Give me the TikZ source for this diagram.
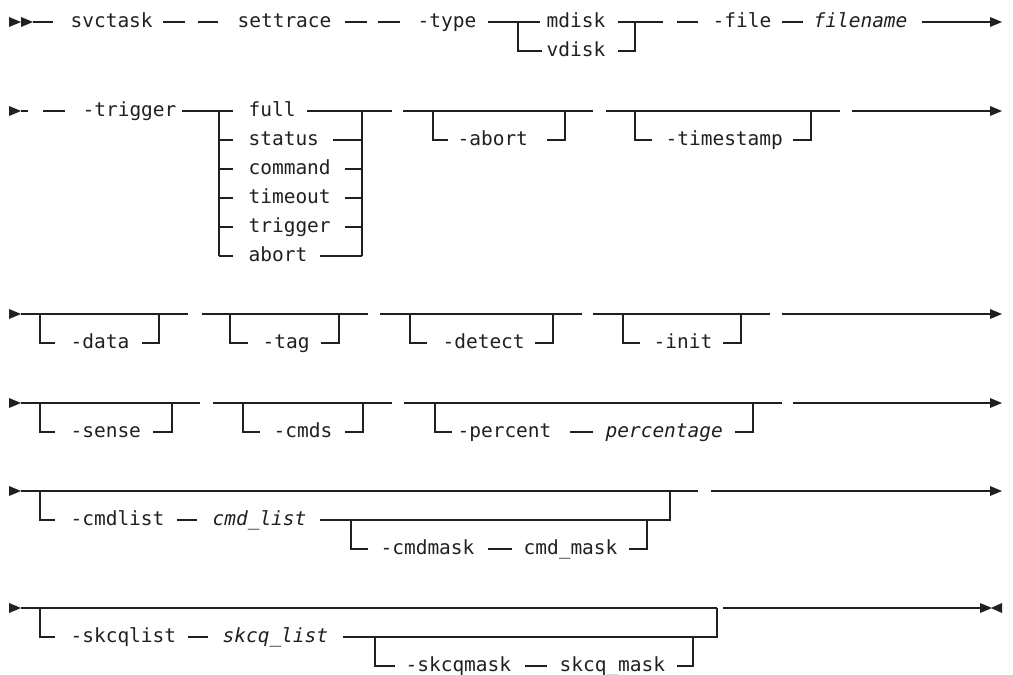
\documentclass[tikz,border=0pt]{standalone}
\usepackage{fontspec}
\setmonofont{DejaVu Sans Mono}
\definecolor{ink}{RGB}{35,31,32}
\newcommand\rtri[2]{\fill[ink] (#1,#2) ++(0,-5) -- ++(12,5) -- ++(-12,5) -- cycle;}
\newcommand\ltri[2]{\fill[ink] (#1,#2) ++(0,-5) -- ++(-11,5) -- ++(11,5) -- cycle;}
\begin{document}
\begin{tikzpicture}[x=1pt,y=-1pt,line width=1.1pt,draw=ink,
  kw/.style={anchor=base west,yshift=-5.8pt,inner sep=0pt,text=ink,font=\fontsize{19.5}{20}\selectfont\ttfamily},
  var/.style={kw,font=\fontsize{19.5}{20}\selectfont\ttfamily\itshape},
  rail/.style={draw=ink,line width=1.1pt},
  bold/.style={draw=ink,line width=2.2pt}]
\useasboundingbox (0,0) rectangle (1013,675);
% ---------------- row 1 (y=22)
\rtri{9}{22}\rtri{21}{22}
\draw[rail] (33,22) -- (53,22);
\node[kw] (svctask) at (70,22) {svctask};
\draw[rail] (163,22) -- (185,22);
\draw[rail] (198,22) -- (218,22);
\node[kw] (settrace) at (237,22) {settrace};
\draw[rail] (345,22) -- (367,22);
\draw[rail] (378,22) -- (400,22);
\node[kw] (type) at (417,22) {-type};
\draw[rail] (488,22) -- (540,22);
\draw[rail] (518,22) -- (518,51) -- (542,51);
\node[kw] (mdisk) at (546,22) {mdisk};
\node[kw] (vdisk) at (546,51) {vdisk};
\draw[rail] (618,22) -- (663,22);
\draw[rail] (618,51) -- (635,51) -- (635,22);
\draw[rail] (677,22) -- (698,22);
\node[kw] (file) at (712,22) {-file};
\draw[rail] (782,22) -- (803,22);
\node[var] (filename) at (813,22) {filename};
\draw[rail] (922,22) -- (991,22);
\rtri{990}{22}
% ---------------- row 2 (y=111)
\rtri{9}{111}
\draw[rail] (21,111) -- (28,111);
\draw[rail] (43,111) -- (65,111);
\node[kw] (trig) at (82,111) {-trigger};
\draw[rail] (182,111) -- (233,111);
\draw[rail] (219,111) -- (219,256);
\foreach \yy in {140,169,198,227,256} \draw[rail] (219,\yy) -- (233,\yy);
\node[kw] (full) at (248,111) {full};
\node[kw] (status) at (248,140) {status};
\node[kw] (command) at (248,169) {command};
\node[kw] (timeout) at (248,198) {timeout};
\node[kw] (trigger) at (248,227) {trigger};
\node[kw] (abort) at (248,256) {abort};
\draw[rail] (307,111) -- (392,111);
\draw[rail] (362,111) -- (362,256);
\draw[rail] (333,140) -- (362,140);
\draw[rail] (345,169) -- (362,169);
\draw[rail] (345,198) -- (362,198);
\draw[rail] (345,227) -- (362,227);
\draw[rail] (320,256) -- (362,256);
% -abort
\draw[rail] (403,111) -- (593,111);
\draw[rail] (433,111) -- (433,140) -- (448,140);
\node[kw] (abrt) at (457,140) {-abort};
\draw[rail] (547,140) -- (565,140) -- (565,111);
% -timestamp
\draw[rail] (606,111) -- (840,111);
\draw[rail] (635,111) -- (635,140) -- (652,140);
\node[kw] (tstamp) at (665,140) {-timestamp};
\draw[rail] (793,140) -- (811,140) -- (811,111);
\draw[rail] (852,111) -- (991,111);
\rtri{990}{111}
% ---------------- row 3 (y=314)
\rtri{9}{314}
\draw[rail] (21,314) -- (188,314);
\draw[rail] (40,314) -- (40,343) -- (55,343);
\node[kw] (data) at (70,343) {-data};
\draw[rail] (142,343) -- (159,343) -- (159,314);
\draw[rail] (202,314) -- (368,314);
\draw[rail] (230,314) -- (230,343) -- (248,343);
\node[kw] (tag) at (262,343) {-tag};
\draw[rail] (321,343) -- (339,343) -- (339,314);
\draw[rail] (380,314) -- (582,314);
\draw[rail] (410,314) -- (410,343) -- (427,343);
\node[kw] (detect) at (442,343) {-detect};
\draw[rail] (535,343) -- (553,343) -- (553,314);
\draw[rail] (593,314) -- (770,314);
\draw[rail] (623,314) -- (623,343) -- (640,343);
\node[kw] (init) at (653,343) {-init};
\draw[rail] (723,343) -- (741,343) -- (741,314);
\draw[rail] (782,314) -- (991,314);
\rtri{990}{314}
% ---------------- row 4 (y=403)
\rtri{9}{403}
\draw[rail] (21,403) -- (200,403);
\draw[rail] (40,403) -- (40,432) -- (55,432);
\node[kw] (sense) at (70,432) {-sense};
\draw[rail] (153,432) -- (172,432) -- (172,403);
\draw[rail] (213,403) -- (392,403);
\draw[rail] (243,403) -- (243,432) -- (260,432);
\node[kw] (cmds) at (273,432) {-cmds};
\draw[rail] (345,432) -- (363,432) -- (363,403);
\draw[rail] (404,403) -- (782,403);
\draw[rail] (435,403) -- (435,432) -- (452,432);
\node[kw] (percent) at (457,432) {-percent};
\draw[rail] (570,432) -- (593,432);
\node[var] (percentage) at (605,432) {percentage};
\draw[rail] (735,432) -- (753,432) -- (753,403);
\draw[rail] (793,403) -- (991,403);
\rtri{990}{403}
% ---------------- row 5 (y=491)
\rtri{9}{491}
\draw[rail] (21,491) -- (698,491);
\draw[rail] (40,491) -- (40,520) -- (55,520);
\node[kw] (cmdlist) at (70,520) {-cmdlist};
\draw[rail] (177,520) -- (197,520);
\node[var] (cmdlistv) at (212,520) {cmd\_list};
\draw[rail] (320,520) -- (670,520) -- (670,491);
\draw[rail] (351,520) -- (351,549) -- (368,549);
\node[kw] (cmdmask) at (380,549) {-cmdmask};
\draw[rail] (488,549) -- (512,549);
\node[kw] (cmdmaskv) at (523,549) {cmd\_mask};
\draw[rail] (629,549) -- (647,549) -- (647,520);
\draw[rail] (711,491) -- (991,491);
\rtri{990}{491}
% ---------------- row 6 (y=608)
\rtri{9}{608}
\draw[rail] (21,608) -- (717,608);
\draw[rail] (40,608) -- (40,637) -- (55,637);
\node[kw] (skcqlist) at (70,637) {-skcqlist};
\draw[rail] (188,637) -- (208,637);
\node[var] (skcqlistv) at (222,637) {skcq\_list};
\draw[rail] (343,637) -- (717,637) -- (717,608);
\draw[rail] (375,637) -- (375,666) -- (395,666);
\node[kw] (skcqmask) at (405,666) {-skcqmask};
\draw[rail] (525,666) -- (547,666);
\node[kw] (skcqmaskv) at (559,666) {skcq\_mask};
\draw[rail] (677,666) -- (693,666) -- (693,637);
\draw[bold] (723,608) -- (747,608);
\draw[rail] (747,608) -- (981,608);
\rtri{980}{608}\ltri{1002}{608}
\end{tikzpicture}
\end{document}
